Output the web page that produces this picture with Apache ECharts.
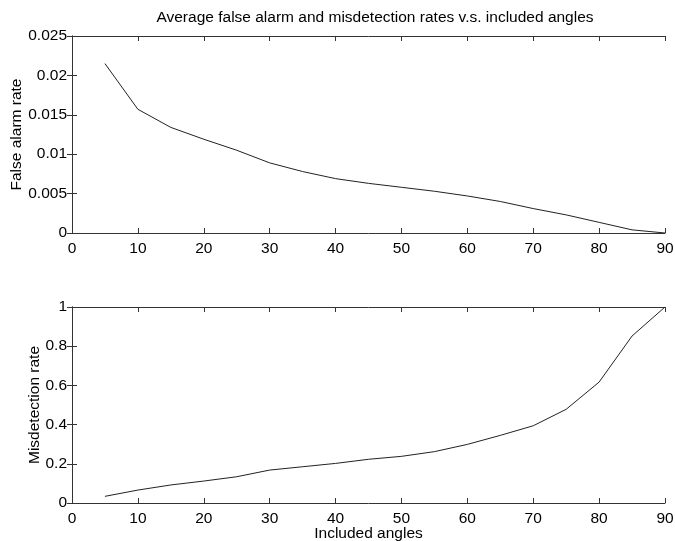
<!DOCTYPE html>
<html><head><meta charset="utf-8">
<script src="https://cdn.jsdelivr.net/npm/echarts@6/dist/echarts.min.js"></script>
<style>html,body{margin:0;padding:0;background:#fff}#c{width:675px;height:541px}</style>
</head><body><div id="c"></div>
<script>
const angles = [5,10,15,20,25,30,35,40,45,50,55,60,65,70,75,80,85,90];
const falseAlarm = [0.0215,0.0157,0.0134,0.0119,0.0105,0.0089,0.0078,0.0069,0.0063,0.0058,0.0053,0.0047,0.0040,0.0031,0.0023,0.00135,0.0004,0.0];
const misdetection = [0.034,0.066,0.092,0.112,0.134,0.168,0.185,0.202,0.223,0.238,0.262,0.299,0.345,0.394,0.478,0.617,0.852,1.0];
const titleText = 'Average false alarm and misdetection rates v.s. included angles';
const yName1 = 'False alarm rate';
const yName2 = 'Misdetection rate';
const xName = 'Included angles';

const font = 'Liberation Sans, Arial, sans-serif';
const fs = 15.5;
const axisCol = '#333';
function xAx(gi, pos, show, name){
  return {type:'value', gridIndex:gi, position:pos, min:0, max:90, interval:10,
    axisLine:{show:true,onZero:false,lineStyle:{color:axisCol,width:1}},
    axisTick:{show:true,inside:true,length:5,lineStyle:{color:axisCol}},
    axisLabel:{show:show,color:'#000',fontSize:fs,fontFamily:font,margin:8},
    splitLine:{show:false},
    name:name||'', nameLocation:'middle', nameGap:23, nameMoveOverlap:false,
    nameTextStyle:{color:'#000',fontSize:fs,fontFamily:font}};
}
function yAx(gi, pos, show, max, interval, name){
  return {type:'value', gridIndex:gi, position:pos, min:0, max:max, interval:interval,
    axisLine:{show:true,lineStyle:{color:axisCol,width:1}},
    axisTick:{show:true,inside:true,length:5,lineStyle:{color:axisCol}},
    axisLabel:{show:show,color:'#000',fontSize:fs,fontFamily:font,margin:5},
    splitLine:{show:false},
    name:name||'', nameLocation:'middle', nameGap:show?(max<1?47:29):0, nameMoveOverlap:false,
    nameTextStyle:{color:'#000',fontSize:fs,fontFamily:font}};
}
const chart = echarts.init(document.getElementById('c'), null, {renderer:'canvas'});
chart.setOption({
  animation:false,
  backgroundColor:'#fff',
  title:{text:titleText, left:370, top:5, textAlign:'center',
    textStyle:{fontSize:15.5,fontWeight:'normal',color:'#000',fontFamily:font}},
  grid:[{left:72,top:36,width:593,height:197,containLabel:false,outerBoundsMode:'none'},
        {left:72,top:307,width:593,height:196,containLabel:false,outerBoundsMode:'none'}],
  xAxis:[xAx(0,'bottom',true),xAx(0,'top',false),xAx(1,'bottom',true,xName),xAx(1,'top',false)],
  yAxis:[yAx(0,'left',true,0.025,0.005,yName1),yAx(0,'right',false,0.025,0.005),
         yAx(1,'left',true,1,0.2,yName2),yAx(1,'right',false,1,0.2)],
  series:[
    {type:'line',xAxisIndex:0,yAxisIndex:0,data:angles.map((a,i)=>[a,falseAlarm[i]]),
     showSymbol:false,lineStyle:{color:'#222',width:1}},
    {type:'line',xAxisIndex:2,yAxisIndex:2,data:angles.map((a,i)=>[a,misdetection[i]]),
     showSymbol:false,lineStyle:{color:'#222',width:1}}
  ]
});
</script></body></html>
